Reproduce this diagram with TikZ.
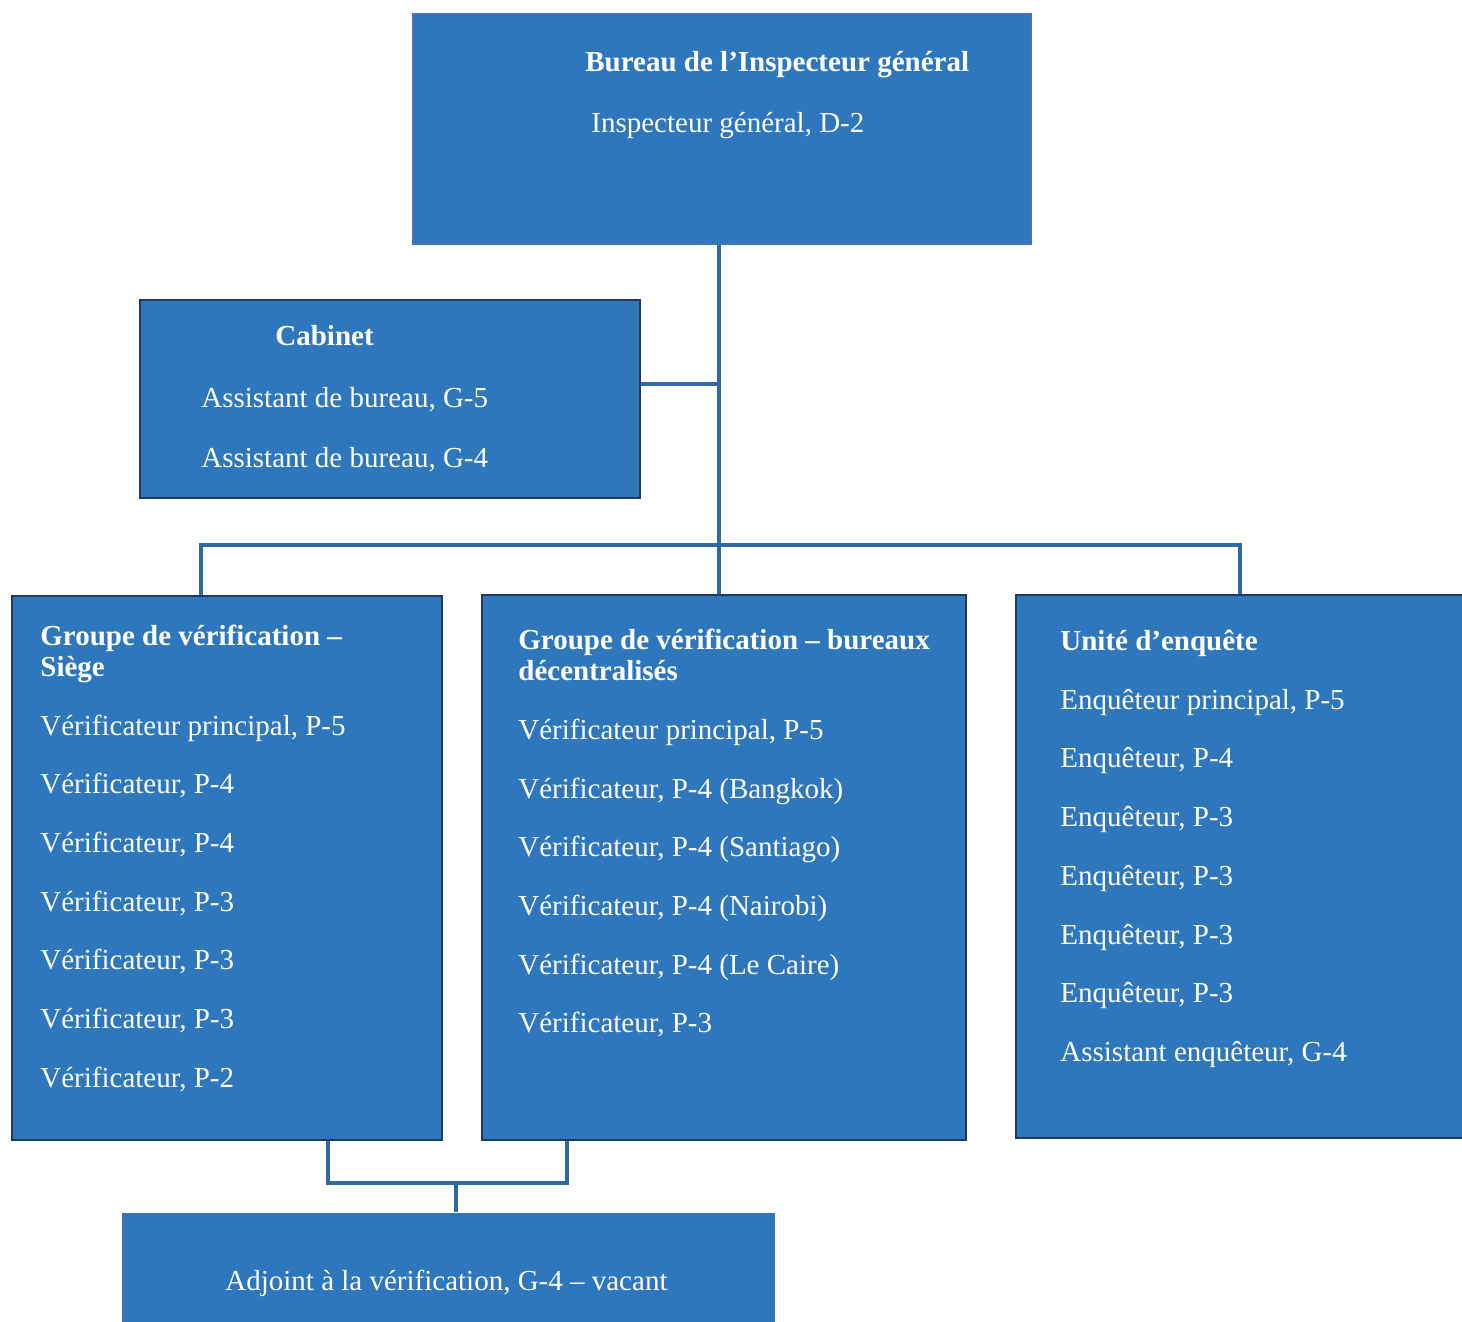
\documentclass[tikz,border=0pt]{standalone}
\usepackage{fontspec}
\setmainfont{Liberation Serif}
\usepackage{tikz}

\definecolor{boxblue}{RGB}{47,119,189}
\definecolor{boxedge}{RGB}{31,56,100}
\definecolor{topedge}{RGB}{68,114,196}
\definecolor{linkblue}{RGB}{46,106,165}

\tikzset{unit/.style={draw=boxedge, line width=1.2pt, fill=boxblue, inner sep=0pt},
  post/.style={text=white, inner sep=0pt, anchor=base west},
  head/.style={post, font=\fontsize{14.5}{15.5}\selectfont\bfseries},
  link/.style={draw=linkblue, line width=1.7pt}}

\begin{document}
\begin{tikzpicture}[x=0.5pt, y=-0.5pt, font=\fontsize{14.5}{15.5}\selectfont]
\useasboundingbox (0,0) rectangle (1462,1322);

\node[unit, draw=topedge, line width=0.8pt, minimum width=309pt, minimum height=115pt] (top) at (722,129) {};
\node[unit, minimum width=250pt, minimum height=99pt] (cab) at (390,399) {};
\node[unit, minimum width=215pt, minimum height=272pt] (sg) at (227,868) {};
\node[unit, minimum width=242pt, minimum height=272.5pt] (dec) at (724,867.5) {};
\node[unit, minimum width=227pt, minimum height=271.5pt] (enq) at (1243,866.5) {};
\node[unit, draw=none, minimum width=326.5pt, minimum height=58.5pt] (adj) at (448.5,1271.5) {};

\coordinate (spine) at (719,545);
\coordinate (cabjoin) at (719,384);
\coordinate (barL) at (201,545);
\coordinate (barR) at (1240,545);
\coordinate (botL) at (328,1183);
\coordinate (botR) at (567,1183);
\coordinate (botM) at (456,1183);

\draw[link] (top.south -| spine) -- (dec.north -| spine);
\draw[link] (cabjoin -| cab.east) -- (cabjoin);
\draw[link] (barL |- sg.north) -- (barL) -- (barR) -- (barR |- enq.north);
\draw[link] (botL |- sg.south) -- (botL) -- (botR) -- (botR |- dec.south);
\draw[link] (botM) -- (botM |- adj.north);

\node[head] (topt) at (585,72) {Bureau de l’Inspecteur général};
\node[post] (top1) at (591,133) {Inspecteur général, D-2};

\node[head] (cabt) at (275,345) {Cabinet};
\node[post] (cab1) at (201,407) {Assistant de bureau, G-5};
\node[post] (cab2) at (201,467) {Assistant de bureau, G-4};

\node[head] (sgt) at (40,645) {Groupe de vérification --};
\node[head] (sgt2) at (40,676) {Siège};
\node[post] (sg1) at (40,735) {Vérificateur principal, P-5};
\node[post] (sg2) at (40,793) {Vérificateur, P-4};
\node[post] (sg3) at (40,852) {Vérificateur, P-4};
\node[post] (sg4) at (40,911) {Vérificateur, P-3};
\node[post] (sg5) at (40,969) {Vérificateur, P-3};
\node[post] (sg6) at (40,1028) {Vérificateur, P-3};
\node[post] (sg7) at (40,1087) {Vérificateur, P-2};

\node[head] (dect) at (518,649) {Groupe de vérification -- bureaux};
\node[head] (dect2) at (518,680) {décentralisés};
\node[post] (dec1) at (518,739) {Vérificateur principal, P-5};
\node[post] (dec2) at (518,798) {Vérificateur, P-4 (Bangkok)};
\node[post] (dec3) at (518,856) {Vérificateur, P-4 (Santiago)};
\node[post] (dec4) at (518,915) {Vérificateur, P-4 (Nairobi)};
\node[post] (dec5) at (518,974) {Vérificateur, P-4 (Le Caire)};
\node[post] (dec6) at (518,1032) {Vérificateur, P-3};

\node[head] (enqt) at (1060,650) {Unité d’enquête};
\node[post] (enq1) at (1060,709) {Enquêteur principal, P-5};
\node[post] (enq2) at (1060,767) {Enquêteur, P-4};
\node[post] (enq3) at (1060,826) {Enquêteur, P-3};
\node[post] (enq4) at (1060,885) {Enquêteur, P-3};
\node[post] (enq5) at (1060,944) {Enquêteur, P-3};
\node[post] (enq6) at (1060,1002) {Enquêteur, P-3};
\node[post] (enq7) at (1060,1061) {Assistant enquêteur, G-4};

\node[post] (adj1) at (225,1290) {Adjoint à la vérification, G-4 -- vacant};
\end{tikzpicture}
\end{document}
